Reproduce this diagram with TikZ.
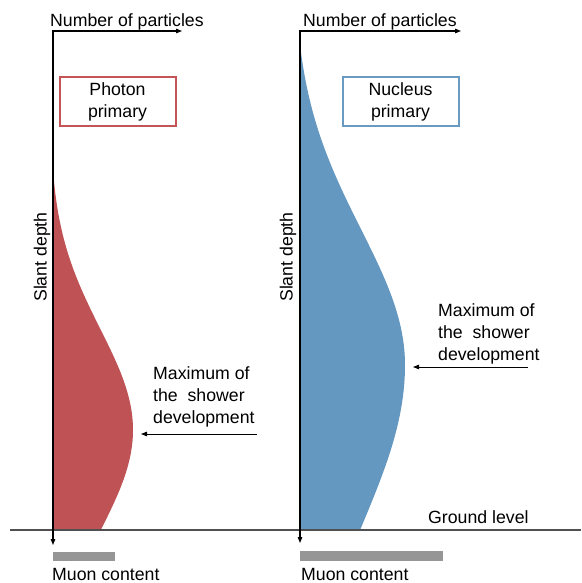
\documentclass[tikz,border=0pt]{standalone}
\usepackage{fontspec}
\setmainfont{Liberation Sans}
\usetikzlibrary{arrows.meta}
\definecolor{redfill}{RGB}{191,82,85}
\definecolor{bluefill}{RGB}{101,152,192}
\definecolor{redline}{RGB}{196,84,86}
\definecolor{blueline}{RGB}{104,154,194}
\definecolor{bargray}{RGB}{150,150,150}
\definecolor{groundgray}{RGB}{80,80,80}
\begin{document}
\begin{tikzpicture}[x=1pt,y=-1pt,
  every node/.style={font=\fontsize{17.7}{22}\selectfont, inner sep=0pt},
  axisline/.style={black, line width=1.2pt, {Triangle[length=6pt,width=4.5pt]}-{Triangle[length=6pt,width=4.5pt]}},
  maxarrow/.style={black, line width=1pt, -{Triangle[length=6pt,width=4.5pt]}},
  primbox/.style={line width=2pt, minimum width=116pt, minimum height=48pt, align=center},
  groundline/.style={groundgray, line width=2pt},
  muonbar/.style={fill=bargray}]
\useasboundingbox (0,0) rectangle (581,583);

% shower profiles
\fill[redfill] (53,170) -- plot[domain=170:530,samples=90] ({53+83*(exp(-0.5*((\x-430)/101)^2)-0.0364)},\x) -- (53,530) -- cycle;
\fill[bluefill] (300,45) -- plot[domain=45:365,samples=80] ({300+112*(exp(-0.5*((\x-365)/136)^2)-0.0627)},\x)
  -- plot[domain=365:530,samples=50] ({300+112*(exp(-0.5*((\x-365)/163)^2)-0.0627)},\x) -- (300,530) -- cycle;

% ground
\coordinate (g1) at (10,530);
\coordinate (g2) at (581,530);
\draw[groundline] (g1) -- (g2);
\node[anchor=base west] (ground) at (428,523) {Ground level};

% axes
\coordinate (x1) at (182,31);
\coordinate (o1) at (53,31);
\coordinate (y1) at (53,545);
\draw[axisline] (x1) -- (o1) -- (y1);
\coordinate (x2) at (461,31);
\coordinate (o2) at (300,31);
\coordinate (y2) at (300,543);
\draw[axisline] (x2) -- (o2) -- (y2);

\node[anchor=base west] (num1) at (50,27) {Number of particles};
\node[anchor=base west] (num2) at (303,27) {Number of particles};
\node[rotate=90] (slant1) at (42,257) {Slant depth};
\node[rotate=90] (slant2) at (288,257) {Slant depth};

% primary boxes
\node[primbox, draw=redline] (photon) at (117.5,101.5) {Photon\\primary};
\node[primbox, draw=blueline] (nucleus) at (400.5,101.5) {Nucleus\\primary};

% maxima
\node[anchor=west, align=left] (max1) at (153,397) {Maximum of\\the\ \ shower\\development};
\coordinate (m1s) at (257,434);
\coordinate (m1e) at (141,434);
\draw[maxarrow] (m1s) -- (m1e);
\node[anchor=west, align=left] (max2) at (438,334) {Maximum of\\the\ \ shower\\development};
\coordinate (m2s) at (528,367);
\coordinate (m2e) at (413,367);
\draw[maxarrow] (m2s) -- (m2e);

% muon content
\fill[muonbar] (53,552) rectangle (115,561);
\fill[muonbar] (300,551) rectangle (443,561);
\node[anchor=base west] (muon1) at (52,580) {Muon content};
\node[anchor=base west] (muon2) at (301,580) {Muon content};
\end{tikzpicture}
\end{document}
